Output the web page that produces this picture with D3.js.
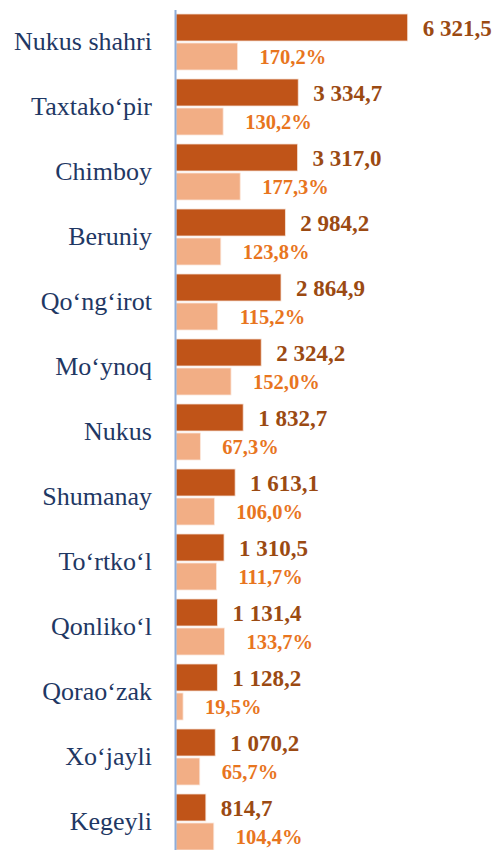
<!DOCTYPE html>
<html>
<head>
<meta charset="utf-8">
<script src="https://cdn.jsdelivr.net/npm/d3@7"></script>
<style>
  body { margin: 0; background: #fff; }
  svg { display: block; }
  .axis path { stroke: #8eadda; stroke-width: 2; }
  .axis text { font-family: "Liberation Serif", "Times New Roman", serif; font-size: 26px; fill: #1f3864; }
  .val-label { font-family: "Liberation Serif", serif; font-weight: bold; font-size: 23px; fill: #9b4a12; }
  .pct-label { font-family: "Liberation Serif", serif; font-weight: bold; font-size: 20.5px; fill: #e8751e; }
</style>
</head>
<body>
<div id="chart"></div>
<script>
var categories = [
  "Nukus shahri", "Taxtako‘pir", "Chimboy", "Beruniy", "Qo‘ng‘irot",
  "Mo‘ynoq", "Nukus", "Shumanay", "To‘rtko‘l", "Qonliko‘l",
  "Qorao‘zak", "Xo‘jayli", "Kegeyli"
];
var volumes = [6321.5, 3334.7, 3317.0, 2984.2, 2864.9, 2324.2, 1832.7, 1613.1, 1310.5, 1131.4, 1128.2, 1070.2, 814.7];
var growth = [170.2, 130.2, 177.3, 123.8, 115.2, 152.0, 67.3, 106.0, 111.7, 133.7, 19.5, 65.7, 104.4];

var vars = {};
vars.width = 499;
vars.height = 850;
vars.x0 = 176;

var locale = d3.formatLocale({ decimal: ",", thousands: " ", grouping: [3], currency: ["", ""] });
var fmtVal = locale.format(",.1f");
var fmtPct = function(d) { return locale.format(".1f")(d) + "%"; };

var rows = categories.map(function(c, i) {
  return { name: c, v: volumes[i], p: growth[i] };
});

var svg = d3.select("#chart").append("svg")
  .attr("width", vars.width)
  .attr("height", vars.height);

// category band: step 65px, first group starts at y=14
var y = d3.scaleBand()
  .domain(categories)
  .range([9.5, 9.5 + 13 * 65])
  .paddingInner(9 / 65)
  .paddingOuter(4.5 / 65);

var ySub = d3.scaleBand()
  .domain(["v", "p"])
  .range([0, y.bandwidth()])
  .paddingInner(2 / 29);

var xVal = d3.scaleLinear().domain([0, 7000]).range([vars.x0, vars.x0 + 7000 * 0.03665]);
var xPct = d3.scaleLinear().domain([0, 700]).range([vars.x0, vars.x0 + 700 * 0.362]);

var groups = svg.append("g").selectAll("g")
  .data(rows)
  .enter().append("g")
  .attr("transform", function(d) { return "translate(0," + y(d.name) + ")"; });

groups.append("rect")
  .attr("x", xVal(0))
  .attr("y", ySub("v"))
  .attr("width", function(d) { return xVal(d.v) - xVal(0); })
  .attr("height", ySub.bandwidth())
  .attr("fill", "#c05418")
  .attr("stroke", "#f6e2d6")
  .attr("stroke-width", 0.8);

groups.append("rect")
  .attr("x", xPct(0))
  .attr("y", ySub("p"))
  .attr("width", function(d) { return xPct(d.p) - xPct(0); })
  .attr("height", ySub.bandwidth())
  .attr("fill", "#f2ae85")
  .attr("stroke", "#fbe6da")
  .attr("stroke-width", 0.8);

groups.append("text")
  .attr("class", "val-label")
  .attr("x", function(d) { return xVal(d.v) + 15; })
  .attr("y", ySub("v") + ySub.bandwidth() / 2)
  .attr("dy", "0.37em")
  .text(function(d) { return fmtVal(d.v); });

groups.append("text")
  .attr("class", "pct-label")
  .attr("x", function(d) { return xPct(d.p) + 22; })
  .attr("y", ySub("p") + ySub.bandwidth() / 2)
  .attr("dy", "0.37em")
  .text(function(d) { return fmtPct(d.p); });

// vertical category axis, labels only
svg.append("g")
  .attr("class", "axis")
  .attr("transform", "translate(175,0)")
  .call(d3.axisLeft(y).tickSize(0).tickSizeOuter(0).tickPadding(23))
  .call(function(g) { g.selectAll(".tick line").remove(); });
</script>
</body>
</html>
